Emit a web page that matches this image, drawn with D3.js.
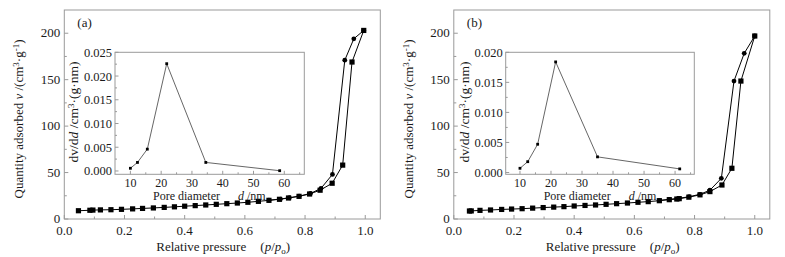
<!DOCTYPE html>
<html><head><meta charset="utf-8">
<script src="https://cdn.jsdelivr.net/npm/d3@7"></script>
<style>
body{margin:0;background:#fff;}
svg{display:block;font-family:"Liberation Serif","Times New Roman",serif;}
</style></head>
<body><svg id="chart" width="785" height="257"></svg>
<script>
// ---- Data ----
const panelLabels = ["(a)", "(b)"];
const xTicksMain = [0.0, 0.2, 0.4, 0.6, 0.8, 1.0];
const yTicksMain = [0, 50, 100, 150, 200];
const xTicksInset = [10, 20, 30, 40, 50, 60];
const yTicksInsetA = [0.000, 0.005, 0.010, 0.015, 0.020, 0.025];
const yTicksInsetB = [0.000, 0.005, 0.010, 0.015, 0.020];

// Panel (a) isotherm
const adsA_p = [0.047,0.085,0.095,0.12,0.155,0.19,0.227,0.26,0.296,0.332,0.366,0.40,0.435,0.47,0.505,0.54,0.575,0.61,0.645,0.68,0.715,0.745,0.78,0.815,0.85,0.89,0.925,0.956,0.995];
const adsA_v = [8.9,9.4,9.6,9.8,10.0,10.4,10.9,11.4,11.9,12.5,13.1,13.8,14.4,15.1,15.8,16.5,17.2,18.0,19.0,20.1,21.2,22.6,24.4,26.9,31.0,38.5,58,169,203];
const desA_p = [0.995,0.962,0.932,0.891,0.853,0.818,0.78,0.748,0.718,0.68];
const desA_v = [203,194,171,48,33,27.5,24.6,22.9,21.5,20.2];
// Panel (a) pore size distribution
const psdA_d = [10.0,12.3,15.5,21.8,34.5,58.5];
const psdA_v = [0.00057,0.0018,0.0046,0.0226,0.0018,0.00006];

// Panel (b) isotherm
const adsB_p = [0.052,0.058,0.087,0.122,0.159,0.192,0.227,0.262,0.297,0.332,0.366,0.40,0.436,0.471,0.506,0.541,0.577,0.612,0.646,0.683,0.716,0.741,0.749,0.781,0.818,0.851,0.891,0.924,0.954,1.0];
const adsB_v = [8.6,8.7,9.3,9.7,10.3,10.7,11.1,11.7,12.3,12.8,13.3,14.0,14.6,15.1,15.8,16.5,17.2,18.0,18.7,19.7,20.8,21.5,21.9,23.5,26.0,29.5,36.6,54.6,148.5,197];
const desB_p = [1.0,0.965,0.931,0.889,0.851,0.818,0.782,0.749,0.716,0.683];
const desB_v = [197,178.4,148.5,43.8,31,26.6,24,22.3,21.2,20.1];
// Panel (b) pore size distribution
const psdB_d = [10.0,12.5,15.7,21.5,35.0,61.5];
const psdB_v = [0.0007,0.0018,0.0047,0.0184,0.0026,0.0006];

// ---- Drawing ----
const svg = d3.select("#chart");
const frameColor = "#9a9a9a";
const textColor = "#1a1a1a";

function zip(a, b){ return a.map((v,i)=>[v,b[i]]); }

function drawPanel(cfg){
  const g = svg.append("g");
  const x = d3.scaleLinear().domain([0,1.05]).range([cfg.left, cfg.left+316]);
  const y = d3.scaleLinear().domain([0,225]).range([219,10]);

  g.append("rect").attr("x",x.range()[0]).attr("y",10).attr("width",316).attr("height",209)
    .attr("fill","none").attr("stroke",frameColor).attr("stroke-width",1);

  const xMinor = d3.range(0.1,1.05,0.2);
  g.selectAll(null).data(xTicksMain).join("line")
    .attr("x1",d=>x(d)).attr("x2",d=>x(d)).attr("y1",219).attr("y2",215)
    .attr("stroke",frameColor);
  g.selectAll(null).data(xMinor).join("line")
    .attr("x1",d=>x(d)).attr("x2",d=>x(d)).attr("y1",219).attr("y2",216.5)
    .attr("stroke",frameColor);
  g.selectAll(null).data(xTicksMain).join("text")
    .attr("x",d=>x(d)).attr("y",235).attr("text-anchor","middle")
    .attr("font-size",13).attr("fill",textColor).text(d=>d.toFixed(1));

  const yMinor = d3.range(25,225,50);
  g.selectAll(null).data(yTicksMain).join("line")
    .attr("x1",x.range()[0]).attr("x2",x.range()[0]+4).attr("y1",d=>y(d)).attr("y2",d=>y(d))
    .attr("stroke",frameColor);
  g.selectAll(null).data(yMinor).join("line")
    .attr("x1",x.range()[0]).attr("x2",x.range()[0]+2.5).attr("y1",d=>y(d)).attr("y2",d=>y(d))
    .attr("stroke",frameColor);
  g.selectAll(null).data(yTicksMain).join("text")
    .attr("x",x.range()[0]-4).attr("y",d=>y(d)+4).attr("text-anchor","end")
    .attr("font-size",13).attr("fill",textColor).text(d=>d);

  const xt = g.append("text").attr("y",250.5).attr("font-size",13).attr("fill",textColor);
  xt.append("tspan").attr("x",cfg.left+92).text("Relative pressure");
  const xt2 = g.append("text").attr("x",cfg.left+196).attr("y",250.5).attr("font-size",13).attr("fill",textColor);
  xt2.append("tspan").text("(");
  xt2.append("tspan").attr("font-style","italic").text("p");
  xt2.append("tspan").text("/");
  xt2.append("tspan").attr("font-style","italic").text("p");
  xt2.append("tspan").attr("font-size",9).attr("dy",3).text("o");
  xt2.append("tspan").attr("dy",-3).text(")");

  const yt = g.append("text").attr("transform",`translate(${cfg.left-41},119) rotate(-90)`)
    .attr("text-anchor","middle").attr("font-size",13).attr("fill",textColor);
  yt.append("tspan").text("Quantity adsorbed ");
  yt.append("tspan").attr("font-style","italic").text("v");
  yt.append("tspan").text(" /(cm");
  yt.append("tspan").attr("font-size",9).attr("dy",-4).text("3");
  yt.append("tspan").attr("dy",4).text("·g");
  yt.append("tspan").attr("font-size",9).attr("dy",-4).text("-1");
  yt.append("tspan").attr("dy",4).text(")");

  g.append("text").attr("x",cfg.left+13).attr("y",27).attr("font-size",13)
    .attr("fill",textColor).text(cfg.label);

  const line = d3.line().x(d=>x(d[0])).y(d=>y(d[1]));
  const ads = zip(cfg.adsP, cfg.adsV), des = zip(cfg.desP, cfg.desV);
  g.append("path").attr("d",line(des)).attr("fill","none").attr("stroke","#000").attr("stroke-width",1);
  g.append("path").attr("d",line(ads)).attr("fill","none").attr("stroke","#000").attr("stroke-width",1);
  g.selectAll(null).data(des).join("circle")
    .attr("cx",d=>x(d[0])).attr("cy",d=>y(d[1])).attr("r",2.4).attr("fill","#000");
  g.selectAll(null).data(ads).join("rect")
    .attr("x",d=>x(d[0])-2.6).attr("y",d=>y(d[1])-2.6).attr("width",5.2).attr("height",5.2).attr("fill","#000");

  // inset
  const ix = d3.scaleLinear().domain(cfg.insetX).range([cfg.inL, cfg.inR]);
  const iy = d3.scaleLinear().domain(cfg.insetY).range([174.3, 52.3]);
  g.append("rect").attr("x",cfg.inL).attr("y",52.3).attr("width",cfg.inR-cfg.inL).attr("height",122)
    .attr("fill","#fff").attr("stroke",frameColor).attr("stroke-width",1);
  const ixMinor = d3.range(5,66,10).filter(d=>d>cfg.insetX[0]);
  g.selectAll(null).data(xTicksInset).join("line")
    .attr("x1",d=>ix(d)).attr("x2",d=>ix(d)).attr("y1",174.3).attr("y2",170.8).attr("stroke",frameColor);
  g.selectAll(null).data(ixMinor).join("line")
    .attr("x1",d=>ix(d)).attr("x2",d=>ix(d)).attr("y1",174.3).attr("y2",172.3).attr("stroke",frameColor);
  g.selectAll(null).data(xTicksInset).join("text")
    .attr("x",d=>ix(d)).attr("y",187).attr("text-anchor","middle")
    .attr("font-size",12).attr("fill",textColor).text(d=>d);
  const iyMinor = cfg.yTicks.slice(0,-1).map(d=>d+0.0025);
  g.selectAll(null).data(cfg.yTicks).join("line")
    .attr("x1",cfg.inL).attr("x2",cfg.inL+3.5).attr("y1",d=>iy(d)).attr("y2",d=>iy(d)).attr("stroke",frameColor);
  g.selectAll(null).data(iyMinor).join("line")
    .attr("x1",cfg.inL).attr("x2",cfg.inL+2).attr("y1",d=>iy(d)).attr("y2",d=>iy(d)).attr("stroke",frameColor);
  g.selectAll(null).data(cfg.yTicks).join("text")
    .attr("x",cfg.inL-3).attr("y",d=>iy(d)+4.5).attr("text-anchor","end")
    .attr("font-size",12.5).attr("fill",textColor).text(d=>d.toFixed(3));

  const ixt = g.append("text").attr("y",200).attr("font-size",12).attr("fill",textColor);
  ixt.append("tspan").attr("x",cfg.inL+38).text("Pore diameter");
  const ixt2 = g.append("text").attr("x",cfg.inL+123).attr("y",200).attr("font-size",12).attr("fill",textColor);
  ixt2.append("tspan").attr("font-style","italic").text("d");
  ixt2.append("tspan").text(" /nm");

  const iyt = g.append("text").attr("transform",`translate(${cfg.inL-37},112) rotate(-90)`)
    .attr("text-anchor","middle").attr("font-size",13.5).attr("fill",textColor);
  iyt.append("tspan").text("dv/d");
  iyt.append("tspan").attr("font-style","italic").text("d");
  iyt.append("tspan").text(" /cm");
  iyt.append("tspan").attr("font-size",9).attr("dy",-4).text("3");
  iyt.append("tspan").attr("dy",4).text("·(g·nm)");

  const psd = zip(cfg.psdD, cfg.psdV);
  const iline = d3.line().x(d=>ix(d[0])).y(d=>iy(d[1]));
  g.append("path").attr("d",iline(psd)).attr("fill","none").attr("stroke","#555").attr("stroke-width",0.9);
  g.selectAll(null).data(psd).join("rect")
    .attr("x",d=>ix(d[0])-1.4).attr("y",d=>iy(d[1])-1.4).attr("width",2.8).attr("height",2.8).attr("fill","#000");
}

drawPanel({left:64.3, label:panelLabels[0], adsP:adsA_p, adsV:adsA_v, desP:desA_p, desV:desA_v,
  inL:115, inR:304.3, insetX:[5,66.5], insetY:[-0.0007,0.025], yTicks:yTicksInsetA, psdD:psdA_d, psdV:psdA_v});
drawPanel({left:453.8, label:panelLabels[1], adsP:adsB_p, adsV:adsB_v, desP:desB_p, desV:desB_v,
  inL:505.7, inR:694.3, insetX:[5.4,66.2], insetY:[-0.0003,0.020], yTicks:yTicksInsetB, psdD:psdB_d, psdV:psdB_v});
</script></body></html>
